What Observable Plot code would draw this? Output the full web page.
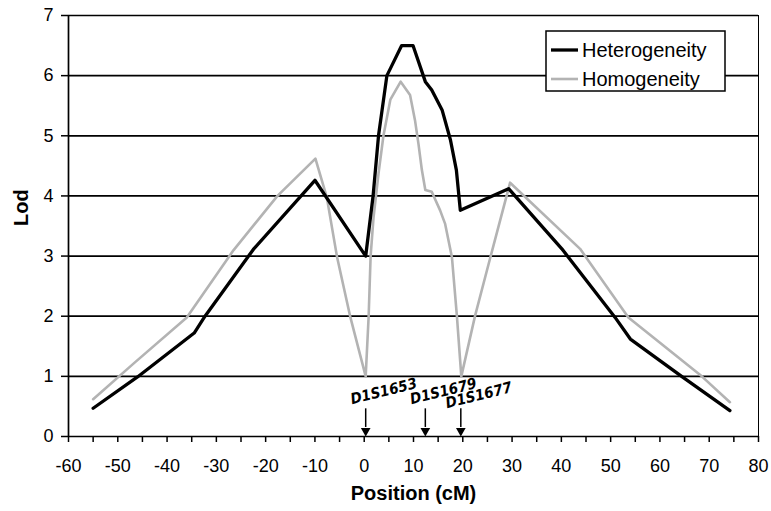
<!DOCTYPE html>
<html>
<head>
<meta charset="utf-8">
<script src="https://cdn.jsdelivr.net/npm/d3@7"></script>
<script src="https://cdn.jsdelivr.net/npm/@observablehq/plot@0.6"></script>
<style>
  html, body { margin: 0; padding: 0; background: white; }
</style>
</head>
<body>
<div id="chart"></div>
<script>
// Heterogeneity LOD curve
const hetPos = [-55, -46, -34.5, -32.3, -22.5, -10, 0.3, 1.8, 2.9, 4.6, 5.5, 7.6, 9.9, 12.4, 13.7, 15.8, 17.5, 18.7, 19.5, 29.3, 40.1, 50.9, 54, 64.4, 74.2];
const hetLod = [0.47, 0.99, 1.72, 2.0, 3.11, 4.26, 3.0, 4.0, 5.0, 6.0, 6.15, 6.5, 6.5, 5.9, 5.76, 5.43, 4.93, 4.43, 3.76, 4.12, 3.12, 1.98, 1.62, 1.0, 0.43];
// Homogeneity LOD curve
const homPos = [-55, -46.7, -36, -26.5, -17.6, -9.9, -7.6, -5.5, -2.8, 0.3, 0.9, 1.3, 1.9, 2.9, 3.9, 5.3, 7.4, 9.3, 10.3, 11, 11.7, 12.4, 13.7, 15.4, 16.4, 17.8, 18.8, 19.7, 22.5, 25.6, 29.6, 43.8, 53.6, 68.5, 74.2];
const homLod = [0.62, 1.22, 1.98, 3.1, 4.0, 4.62, 3.98, 2.98, 1.98, 1.0, 2.0, 3.0, 3.65, 4.37, 5.0, 5.6, 5.9, 5.68, 5.26, 4.87, 4.43, 4.1, 4.07, 3.76, 3.54, 2.98, 2.01, 1.0, 2.01, 2.98, 4.22, 3.12, 1.98, 1.0, 0.57];
// Markers
const markerNames = ["D1S1653", "D1S1679", "D1S1677"];
const markerPos = [0.3, 12.4, 19.6];
// Axis ticks
const xTicks = [-60, -50, -40, -30, -20, -10, 0, 10, 20, 30, 40, 50, 60, 70, 80];
const xMinorTicks = d3.range(-60, 81, 5);
const yTicks = [0, 1, 2, 3, 4, 5, 6, 7];
const seriesNames = ["Heterogeneity", "Homogeneity"];
const xLabel = "Position (cM)";
const yLabel = "Lod";

const het = hetPos.map((x, i) => ({x, y: hetLod[i]}));
const hom = homPos.map((x, i) => ({x, y: homLod[i]}));
const markers = markerNames.map((name, i) => ({name, x: markerPos[i]}));

const font = "'Liberation Sans', Arial, sans-serif";
const labelFont = "'DejaVu Sans Condensed', 'Liberation Sans', Arial, sans-serif";
const grayLine = "#b3b3b3";
const fmt = d => String(d);

const chart = Plot.plot({
  width: 771,
  height: 511,
  marginLeft: 68,
  marginRight: 13,
  marginTop: 15,
  marginBottom: 75,
  x: {domain: [-60, 80]},
  y: {domain: [0, 7]},
  style: {fontFamily: font, background: "white", color: "black", overflow: "visible"},
  marks: [
    Plot.ruleY(yTicks.filter(d => d > 0), {stroke: "black", strokeWidth: 1.7}),
    Plot.ruleX([80], {y1: 0, y2: 7, stroke: "black", strokeWidth: 1}),
    Plot.ruleX([-60], {y1: 0, y2: 7, stroke: "black", strokeWidth: 1.7}),
    Plot.ruleY([0], {stroke: "black", strokeWidth: 1.7}),
    Plot.axisY({ticks: yTicks, tickSize: 7, tickPadding: 8, fontSize: 18, tickFormat: fmt, label: null, strokeWidth: 1.5}),
    Plot.axisX({ticks: xMinorTicks, tickSize: 6, tickFormat: () => "", label: null, strokeWidth: 1.5}),
    Plot.axisX({ticks: xTicks, tickSize: 0, tickPadding: 23, fontSize: 18, tickFormat: fmt, label: null}),
    Plot.line(hom, {x: "x", y: "y", stroke: grayLine, strokeWidth: 2.6}),
    Plot.line(het, {x: "x", y: "y", stroke: "black", strokeWidth: 3.3}),
    Plot.ruleX(markers, {x: "x", y1: 0.46, y2: 0.15, stroke: "black", strokeWidth: 1.5}),
    Plot.dot(markers, {x: "x", y: 0.095, symbol: "triangle", r: 3.6, fill: "black", stroke: "none", rotate: 180}),
    Plot.text(markers.filter(d => d.name !== "D1S1677"), {x: "x", y: 0.75, text: "name", dx: 18, rotate: -14,
      fontSize: 15, fontWeight: "bold", fontStyle: "italic", fontFamily: labelFont}),
    Plot.text(markers.filter(d => d.name === "D1S1677"), {x: "x", y: 0.75, text: "name", dx: 18, dy: 4, rotate: -14,
      fontSize: 15, fontWeight: "bold", fontStyle: "italic", fontFamily: labelFont}),
    Plot.text([xLabel], {frameAnchor: "bottom", dy: 63, text: d => d, fontSize: 20, fontWeight: "bold"}),
    Plot.text([yLabel], {frameAnchor: "left", dx: -47, rotate: -90, text: d => d, fontSize: 20, fontWeight: "bold"})
  ]
});

// Legend box inside the plot area (top right)
const svg = d3.select(chart);
const g = svg.append("g").attr("font-family", font).attr("font-size", 20).attr("text-anchor", "start");
g.append("rect").attr("x", 546).attr("y", 31).attr("width", 179).attr("height", 60)
  .attr("fill", "white").attr("stroke", "black").attr("stroke-width", 1.5);
const legendStyles = [{stroke: "black", w: 3.3}, {stroke: grayLine, w: 2.6}];
seriesNames.forEach((name, i) => {
  const cy = 50 + i * 29;
  g.append("line").attr("x1", 551).attr("x2", 578).attr("y1", cy).attr("y2", cy)
    .attr("stroke", legendStyles[i].stroke).attr("stroke-width", legendStyles[i].w);
  g.append("text").attr("x", 582).attr("y", cy).attr("dy", "0.35em").attr("fill", "black")
    .attr("text-anchor", "start").text(name);
});

document.getElementById("chart").appendChild(chart);
</script>
</body>
</html>
